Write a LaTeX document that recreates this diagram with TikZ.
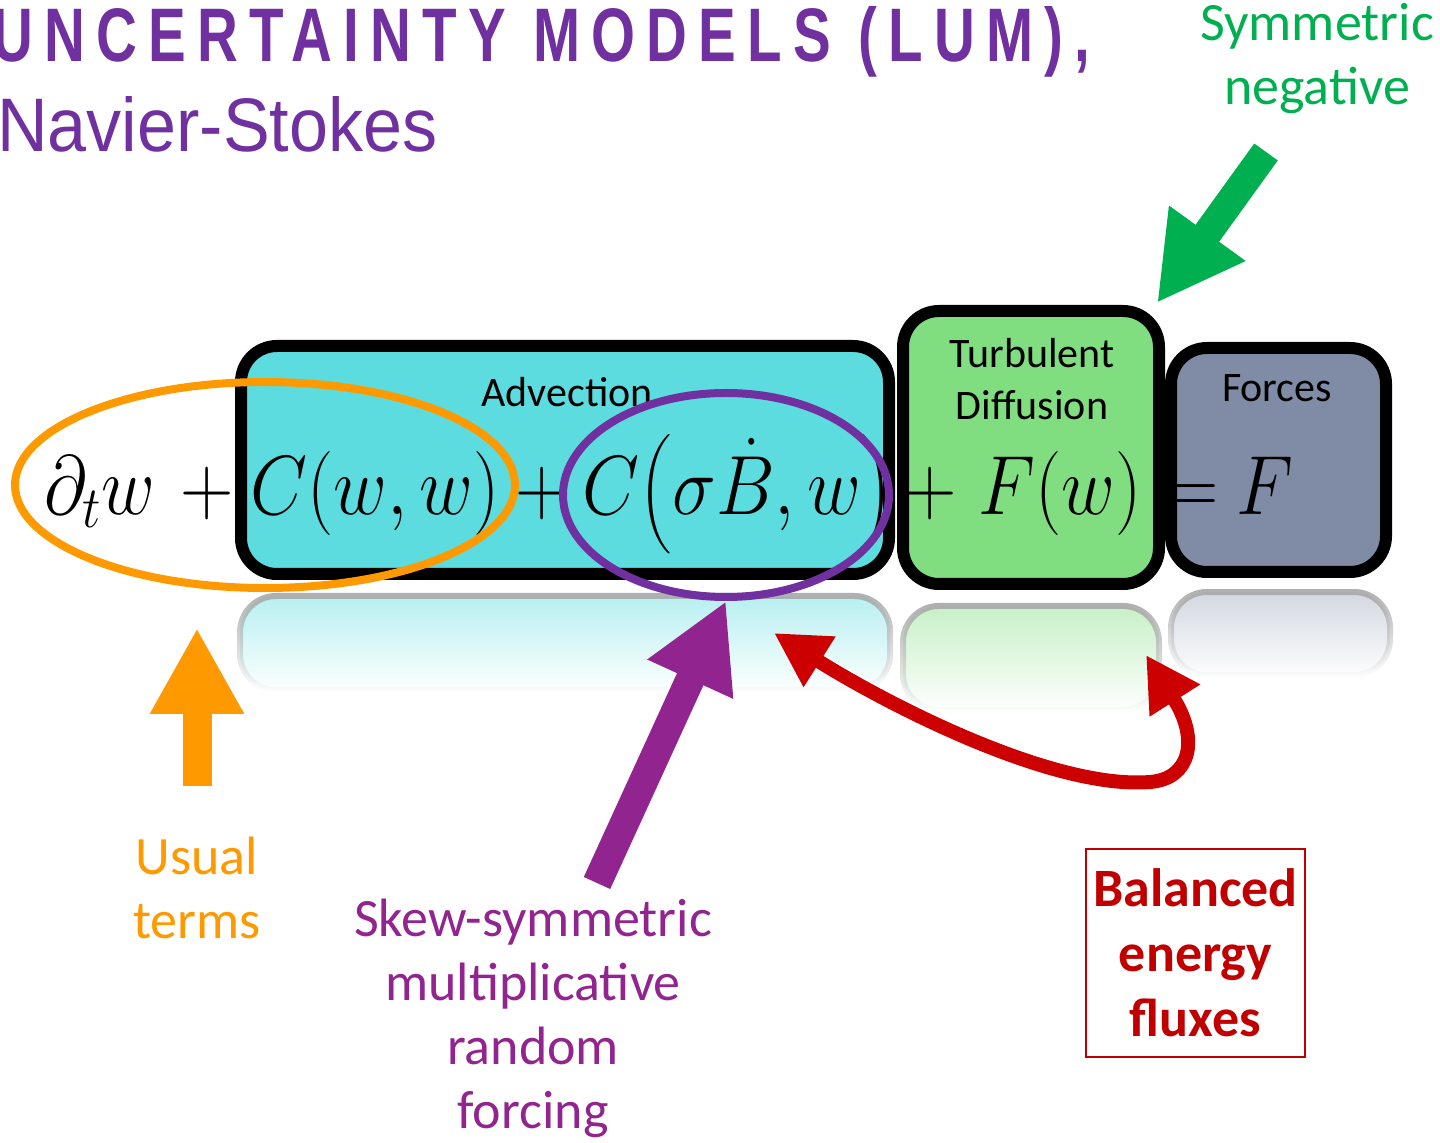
\documentclass[tikz,border=0pt]{standalone}
\usepackage{fix-cm}
\usepackage{amsmath}
\usepackage{fontspec}
\setmainfont{Carlito}
\newfontfamily\titlefont{Liberation Sans}
\usepackage{tikz}
\usetikzlibrary{shapes.geometric,arrows.meta,fadings}

\definecolor{titlepurple}{RGB}{112,48,160}
\definecolor{advcyan}{RGB}{92,220,222}
\definecolor{difgreen}{RGB}{128,221,128}
\definecolor{frcgray}{RGB}{128,140,166}
\definecolor{usualorange}{RGB}{255,153,0}
\definecolor{skewring}{RGB}{112,48,160}
\definecolor{skewpurple}{RGB}{146,36,143}
\definecolor{symgreen}{RGB}{0,176,80}
\definecolor{balred}{RGB}{192,0,0}
\definecolor{fluxred}{RGB}{204,0,0}

\newcommand{\eqbit}[1]{\scalebox{0.88}[1]{$#1$}}

\tikzfading[name=mirrorfade, top color=transparent!10, bottom color=transparent!100]

\tikzset{
  termbox/.style={draw=black, line width=6pt, rounded corners=18pt},
  boxlabel/.style={font=\fontsize{21}{26}\selectfont, align=center, inner sep=0pt},
  mathterm/.style={font=\fontsize{42}{50}\selectfont, anchor=base, inner sep=0pt},
  mirror/.style={draw=gray!70, line width=3pt, rounded corners=18pt, path fading=mirrorfade},
  ringmark/.style={ellipse, draw, line width=4pt, inner sep=0pt},
  blockarrow/.style={line width=14.5pt, -{Triangle[length=43pt,width=44pt]}},
  sidelabel/.style={font=\fontsize{27}{32}\selectfont, align=center},
}

\begin{document}
\begin{tikzpicture}[x=0.5pt,y=-0.5pt]
\useasboundingbox (0,0) rectangle (1440,1143);

% heading
\node[anchor=base west, inner sep=0pt, text=titlepurple] (title) at (-8,62)
  {\resizebox{549pt}{27.5pt}{\titlefont\bfseries\addfontfeature{LetterSpace=20}UNCERTAINTY MODELS (LUM),}};
\node[anchor=base west, inner sep=0pt, text=titlepurple] (subtitle) at (-3,152)
  {\resizebox{220pt}{27.5pt}{\titlefont Navier-Stokes}};

% mirrored boxes
\draw[mirror, fill=advcyan!50] (240,596) rectangle (890,690);
\draw[mirror, fill=difgreen!50] (903,606) rectangle (1159,710);
\draw[mirror, fill=frcgray!40] (1171,592) rectangle (1390,675);

% the terms
\node[termbox, fill=advcyan, minimum width=324pt, minimum height=114pt] (advbox) at (565,460) {};
\node[termbox, fill=frcgray, minimum width=107.5pt, minimum height=112pt] (frcbox) at (1278.5,460) {};
\node[termbox, fill=difgreen, minimum width=128pt, minimum height=136.5pt] (difbox) at (1031,447.5) {};

\node[boxlabel] (advlabel) at (567,392) {Advection};
\node[boxlabel] (diflabel) at (1032,379) {Turbulent\\Diffusion};
\node[boxlabel] (frclabel) at (1277,388) {Forces};

\node[mathterm] (dtw) at (100,515) {\eqbit{\partial_t w}};
\node[mathterm] (plusa) at (207,515) {\eqbit{+}};
\node[mathterm] (cww) at (375,515) {\eqbit{C(w,w)}};
\node[mathterm] (plusb) at (542,515) {\eqbit{+}};
\node[mathterm] (cbw) at (738,515) {\eqbit{C\bigl(\sigma\dot{B},w\bigr)}};
\node[mathterm] (plusc) at (930,515) {\eqbit{+}};
\node[mathterm] (fw) at (1060,515) {\eqbit{F(w)}};
\node[mathterm] (eqs) at (1192,515) {\eqbit{=}};
\node[mathterm] (frc) at (1265,515) {\eqbit{F}};

% rings
\node[ringmark, draw=usualorange, minimum width=250pt, minimum height=103pt] (usualring) at (265,485) {};
\node[ringmark, draw=skewring, minimum width=163pt, minimum height=102pt] (skewring) at (726,495) {};

% labels
\node[sidelabel, text=usualorange] (usual) at (197,888) {Usual\\terms};
\node[sidelabel, text=skewpurple] (skew) at (533,1018) {Skew-symmetric\\multiplicative\\random\\forcing};
\node[sidelabel, text=symgreen] (symneg) at (1317,59) {Symmetric\\negative};
\node[draw=balred, line width=1pt, minimum width=109.5pt, minimum height=104pt,
  font=\fontsize{27}{32.5}\selectfont\bfseries, align=center, text=balred] (balanced) at (1195.5,953)
  {Balanced\\energy\\fluxes};

% arrows
\coordinate (usualtip) at (197,628);
\coordinate (skewtail) at (597,883);
\coordinate (symtail) at (1266,152);
\coordinate (fluxl) at (774,633);
\coordinate (fluxr) at (1146,655);

\draw[blockarrow, usualorange, shorten <=22pt] (usual.north) -- (usualtip);
\draw[blockarrow, skewpurple] (skewtail) -- (skewring.south);
\draw[blockarrow, symgreen] (symtail) -- ([shift={(-8,-2)}]difbox.north east);
\draw[fluxred, line width=7pt, {Triangle[length=27pt,width=28pt]}-{Triangle[length=27pt,width=28pt]}]
  (fluxl) .. controls (880,700) and (1050,790) .. (1150,782)
  .. controls (1190,779) and (1200,740) .. (fluxr);
\end{tikzpicture}
\end{document}
